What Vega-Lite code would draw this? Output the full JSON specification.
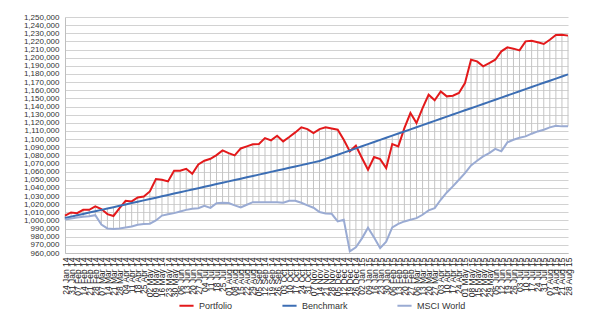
{
 "$schema": "https://vega.github.io/schema/vega-lite/v6.json",
 "width": 503, "height": 236,
 "autosize": {"type": "none"},
 "padding": {"left": 65, "top": 17, "right": 25, "bottom": 57},
 "background": "white",
 "config": {"view": {"stroke": null}, "font": "Liberation Sans"},
 "data": {"values": [
  {"date":"2014-01-24","Portfolio":1005800,"Benchmark":1003000,"MSCI World":1001000},
  {"date":"2014-01-31","Portfolio":1009800,"Benchmark":1004667,"MSCI World":1002500},
  {"date":"2014-02-07","Portfolio":1009000,"Benchmark":1006333,"MSCI World":1003700},
  {"date":"2014-02-14","Portfolio":1013100,"Benchmark":1008000,"MSCI World":1004500},
  {"date":"2014-02-21","Portfolio":1013100,"Benchmark":1009667,"MSCI World":1005300},
  {"date":"2014-02-28","Portfolio":1017200,"Benchmark":1011333,"MSCI World":1006500},
  {"date":"2014-03-07","Portfolio":1014000,"Benchmark":1013000,"MSCI World":995000},
  {"date":"2014-03-14","Portfolio":1007800,"Benchmark":1014667,"MSCI World":990200},
  {"date":"2014-03-21","Portfolio":1005500,"Benchmark":1016333,"MSCI World":989400},
  {"date":"2014-03-28","Portfolio":1015200,"Benchmark":1018000,"MSCI World":990200},
  {"date":"2014-04-04","Portfolio":1024200,"Benchmark":1019667,"MSCI World":991400},
  {"date":"2014-04-11","Portfolio":1023400,"Benchmark":1021333,"MSCI World":992600},
  {"date":"2014-04-18","Portfolio":1028300,"Benchmark":1023000,"MSCI World":994700},
  {"date":"2014-04-25","Portfolio":1029500,"Benchmark":1024667,"MSCI World":995500},
  {"date":"2014-05-02","Portfolio":1035700,"Benchmark":1026333,"MSCI World":996000},
  {"date":"2014-05-09","Portfolio":1050800,"Benchmark":1028000,"MSCI World":1000000},
  {"date":"2014-05-16","Portfolio":1050000,"Benchmark":1029667,"MSCI World":1006000},
  {"date":"2014-05-23","Portfolio":1048000,"Benchmark":1031333,"MSCI World":1007500},
  {"date":"2014-05-30","Portfolio":1061100,"Benchmark":1033000,"MSCI World":1009000},
  {"date":"2014-06-06","Portfolio":1061100,"Benchmark":1034667,"MSCI World":1011000},
  {"date":"2014-06-13","Portfolio":1063500,"Benchmark":1036333,"MSCI World":1013000},
  {"date":"2014-06-20","Portfolio":1057400,"Benchmark":1038000,"MSCI World":1014500},
  {"date":"2014-06-27","Portfolio":1068900,"Benchmark":1039667,"MSCI World":1015000},
  {"date":"2014-07-04","Portfolio":1073400,"Benchmark":1041333,"MSCI World":1018000},
  {"date":"2014-07-11","Portfolio":1075800,"Benchmark":1043000,"MSCI World":1015500},
  {"date":"2014-07-18","Portfolio":1080300,"Benchmark":1044667,"MSCI World":1021300},
  {"date":"2014-07-25","Portfolio":1086100,"Benchmark":1046333,"MSCI World":1021700},
  {"date":"2014-08-01","Portfolio":1082800,"Benchmark":1048000,"MSCI World":1021500},
  {"date":"2014-08-08","Portfolio":1079900,"Benchmark":1049667,"MSCI World":1018500},
  {"date":"2014-08-15","Portfolio":1088500,"Benchmark":1051333,"MSCI World":1016000},
  {"date":"2014-08-22","Portfolio":1091000,"Benchmark":1053000,"MSCI World":1019300},
  {"date":"2014-08-29","Portfolio":1093500,"Benchmark":1054667,"MSCI World":1022500},
  {"date":"2014-09-05","Portfolio":1093900,"Benchmark":1056333,"MSCI World":1022500},
  {"date":"2014-09-12","Portfolio":1101200,"Benchmark":1058000,"MSCI World":1022500},
  {"date":"2014-09-19","Portfolio":1098400,"Benchmark":1059667,"MSCI World":1022500},
  {"date":"2014-09-26","Portfolio":1104100,"Benchmark":1061333,"MSCI World":1022500},
  {"date":"2014-10-03","Portfolio":1097100,"Benchmark":1063000,"MSCI World":1021700},
  {"date":"2014-10-10","Portfolio":1102500,"Benchmark":1064667,"MSCI World":1024200},
  {"date":"2014-10-17","Portfolio":1108200,"Benchmark":1066333,"MSCI World":1024200},
  {"date":"2014-10-24","Portfolio":1114400,"Benchmark":1068000,"MSCI World":1021700},
  {"date":"2014-10-31","Portfolio":1112300,"Benchmark":1069667,"MSCI World":1018500},
  {"date":"2014-11-07","Portfolio":1107400,"Benchmark":1071333,"MSCI World":1015600},
  {"date":"2014-11-14","Portfolio":1112300,"Benchmark":1073000,"MSCI World":1010300},
  {"date":"2014-11-21","Portfolio":1114400,"Benchmark":1075598,"MSCI World":1008600},
  {"date":"2014-11-28","Portfolio":1113100,"Benchmark":1078196,"MSCI World":1008200},
  {"date":"2014-12-05","Portfolio":1111500,"Benchmark":1080794,"MSCI World":998800},
  {"date":"2014-12-12","Portfolio":1099200,"Benchmark":1083392,"MSCI World":1000800},
  {"date":"2014-12-19","Portfolio":1084900,"Benchmark":1085990,"MSCI World":962000},
  {"date":"2014-12-26","Portfolio":1091800,"Benchmark":1088588,"MSCI World":967000},
  {"date":"2015-01-02","Portfolio":1076700,"Benchmark":1091186,"MSCI World":978000},
  {"date":"2015-01-09","Portfolio":1062300,"Benchmark":1093784,"MSCI World":991000},
  {"date":"2015-01-16","Portfolio":1077900,"Benchmark":1096382,"MSCI World":979000},
  {"date":"2015-01-23","Portfolio":1075400,"Benchmark":1098980,"MSCI World":966000},
  {"date":"2015-01-30","Portfolio":1064400,"Benchmark":1101578,"MSCI World":974000},
  {"date":"2015-02-06","Portfolio":1093900,"Benchmark":1104176,"MSCI World":991400},
  {"date":"2015-02-13","Portfolio":1091000,"Benchmark":1106774,"MSCI World":995900},
  {"date":"2015-02-20","Portfolio":1113500,"Benchmark":1109372,"MSCI World":998800},
  {"date":"2015-02-27","Portfolio":1132000,"Benchmark":1111970,"MSCI World":1000800},
  {"date":"2015-03-06","Portfolio":1119700,"Benchmark":1114568,"MSCI World":1002900},
  {"date":"2015-03-13","Portfolio":1138100,"Benchmark":1117166,"MSCI World":1007000},
  {"date":"2015-03-20","Portfolio":1154500,"Benchmark":1119764,"MSCI World":1012300},
  {"date":"2015-03-27","Portfolio":1147600,"Benchmark":1122362,"MSCI World":1015200},
  {"date":"2015-04-03","Portfolio":1158600,"Benchmark":1124960,"MSCI World":1025400},
  {"date":"2015-04-10","Portfolio":1152500,"Benchmark":1127558,"MSCI World":1034400},
  {"date":"2015-04-17","Portfolio":1153300,"Benchmark":1130156,"MSCI World":1041800},
  {"date":"2015-04-24","Portfolio":1156600,"Benchmark":1132754,"MSCI World":1050000},
  {"date":"2015-05-01","Portfolio":1168900,"Benchmark":1135352,"MSCI World":1058200},
  {"date":"2015-05-08","Portfolio":1197500,"Benchmark":1137950,"MSCI World":1067600},
  {"date":"2015-05-15","Portfolio":1195500,"Benchmark":1140548,"MSCI World":1073400},
  {"date":"2015-05-22","Portfolio":1189400,"Benchmark":1143146,"MSCI World":1078700},
  {"date":"2015-05-29","Portfolio":1193400,"Benchmark":1145744,"MSCI World":1082800},
  {"date":"2015-06-05","Portfolio":1197500,"Benchmark":1148342,"MSCI World":1088000},
  {"date":"2015-06-12","Portfolio":1207800,"Benchmark":1150940,"MSCI World":1084900},
  {"date":"2015-06-19","Portfolio":1212700,"Benchmark":1153538,"MSCI World":1095900},
  {"date":"2015-06-26","Portfolio":1211100,"Benchmark":1156136,"MSCI World":1099200},
  {"date":"2015-07-03","Portfolio":1209000,"Benchmark":1158734,"MSCI World":1101600},
  {"date":"2015-07-10","Portfolio":1220100,"Benchmark":1161332,"MSCI World":1103300},
  {"date":"2015-07-17","Portfolio":1220900,"Benchmark":1163930,"MSCI World":1106600},
  {"date":"2015-07-24","Portfolio":1218900,"Benchmark":1166528,"MSCI World":1109400},
  {"date":"2015-07-31","Portfolio":1216800,"Benchmark":1169126,"MSCI World":1111500},
  {"date":"2015-08-07","Portfolio":1222100,"Benchmark":1171724,"MSCI World":1114400},
  {"date":"2015-08-14","Portfolio":1227900,"Benchmark":1174322,"MSCI World":1116400},
  {"date":"2015-08-21","Portfolio":1228300,"Benchmark":1176920,"MSCI World":1115600},
  {"date":"2015-08-28","Portfolio":1227100,"Benchmark":1179518,"MSCI World":1115600}
 ]},
 "transform": [{"fold": ["Portfolio", "Benchmark", "MSCI World"], "as": ["series", "value"]}],
 "encoding": {
  "x": {"field": "date", "type": "ordinal", "scale": {"type": "point", "padding": 0},
   "axis": {"title": null, "labelAngle": -90, "labelFontSize": 8.5, "labelColor": "#222222",
    "labelExpr": "utcFormat(toDate(datum.value), '%d %b %y')", "labelOverlap": false,
    "ticks": false, "labelPadding": 4, "domainColor": "#bfbfbf", "grid": false}}
 },
 "layer": [
  {
   "transform": [{"aggregate": [{"op": "min", "field": "value", "as": "lo"}, {"op": "max", "field": "value", "as": "hi"}], "groupby": ["date"]}],
   "mark": {"type": "rule", "color": "#c4c4c4", "strokeWidth": 1},
   "encoding": {
    "y": {"field": "lo", "type": "quantitative", "scale": {"domain": [960000, 1250000], "nice": false, "zero": false},
     "axis": {"title": null, "format": ",.0f", "labelFontSize": 8, "labelColor": "#333333", "ticks": false, "labelPadding": 6,
      "domainColor": "#bfbfbf", "gridColor": "#d2d2d2", "gridWidth": 1.2, "labelOverlap": false, "labelBound": false,
      "values": [960000,970000,980000,990000,1000000,1010000,1020000,1030000,1040000,1050000,1060000,1070000,1080000,1090000,1100000,1110000,1120000,1130000,1140000,1150000,1160000,1170000,1180000,1190000,1200000,1210000,1220000,1230000,1240000,1250000]}},
    "y2": {"field": "hi"}
   }
  },
  {
   "mark": {"type": "line", "strokeWidth": 2},
   "encoding": {
    "y": {"field": "value", "type": "quantitative",
     "axis": {"title": null, "format": ",.0f", "labelFontSize": 8, "labelColor": "#333333", "ticks": false, "labelPadding": 6,
      "domainColor": "#bfbfbf", "gridColor": "#d2d2d2", "gridWidth": 1.2, "labelOverlap": false, "labelBound": false,
      "values": [960000,970000,980000,990000,1000000,1010000,1020000,1030000,1040000,1050000,1060000,1070000,1080000,1090000,1100000,1110000,1120000,1130000,1140000,1150000,1160000,1170000,1180000,1190000,1200000,1210000,1220000,1230000,1240000,1250000]}},
    "color": {"field": "series", "type": "nominal",
     "scale": {"domain": ["Portfolio", "Benchmark", "MSCI World"], "range": ["#e3191b", "#3c6eb4", "#9aabd3"]},
     "legend": {"title": null, "orient": "none", "legendX": 113, "legendY": 280, "direction": "horizontal",
      "symbolType": "stroke", "symbolStrokeWidth": 2, "symbolSize": 200, "labelFontSize": 9, "columnPadding": 45, "labelColor": "#333333"}}
   }
  }
 ]
}
